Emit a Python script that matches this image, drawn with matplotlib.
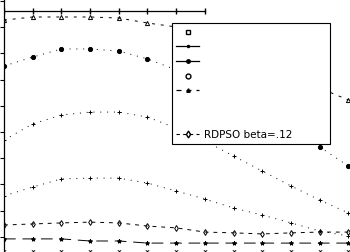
"""Cropped multi-series line chart (black and white, dotted/dashed lines with markers)."""
import numpy as np
import matplotlib; matplotlib.use("Agg"); import matplotlib.pyplot as plt
from matplotlib.lines import Line2D

X = np.arange(13)
S_FLAT = [9.62, 9.62, 9.62, 9.62, 9.62, 9.62, 9.62, 9.62, np.nan, np.nan, np.nan, np.nan, np.nan]
S_TOP = [9.27, 9.39, 9.39, 9.39, 9.35, 9.16, 9.01, 8.70, 8.28, 7.75, 7.18, 6.68, 6.22]
S_CIRC = [7.52, 7.86, 8.17, 8.17, 8.09, 7.79, 7.37, 6.87, 6.30, 5.69, 5.08, 4.43, 3.70]
S_PLUS1 = [4.69, 5.31, 5.65, 5.76, 5.76, 5.57, 5.15, 4.66, 4.08, 3.51, 2.94, 2.40, 1.91]
S_PLUS2 = [2.56, 2.90, 3.21, 3.24, 3.24, 3.05, 2.75, 2.44, 2.10, 1.83, 1.53, 1.22, 1.03]
S_DIAM = [1.45, 1.49, 1.53, 1.56, 1.53, 1.41, 1.34, 1.18, 1.15, 1.11, 1.15, 1.18, 1.18]
S_STAR = [0.92, 0.92, 0.92, 0.84, 0.84, 0.76, 0.76, 0.76, 0.76, 0.76, 0.76, 0.76, 0.76]
S_LOW = [0.45, 0.45, 0.45, 0.45, 0.45, 0.45, 0.45, 0.45, 0.45, 0.45, 0.45, 0.45, 0.45]
LABELS = ["", "", "", "", "", "", "", "RDPSO beta=.12"]

DOT = (0, (1, 6)); DASH = (0, (4, 5)); LONG = (0, (12, 7))
fig = plt.figure(figsize=(3.5, 2.52), dpi=100)
ax = fig.add_axes([4 / 350, -11 / 252, 13 * 28.7 / 350, 10.3 * 26.2 / 252])
kw = dict(color="k", lw=0.7, ms=3, mew=0.7)
ax.plot(X, S_FLAT, "-", marker="|", ms=4, color="k", lw=0.9)
ax.plot(X, S_TOP, ls=(0, (3, 6)), marker="^", mfc="none", **kw)
ax.plot(X, S_CIRC, ls=DOT, marker="o", **kw)
ax.plot(X, S_PLUS1, ls=DOT, marker="+", **kw)
ax.plot(X, S_PLUS2, ls=DOT, marker="+", **kw)
ax.plot(X, S_DIAM, ls=DASH, marker="d", mfc="none", **kw)
ax.plot(X, S_STAR, ls=LONG, marker="*", **kw)
ax.plot(X, S_LOW, ls="none", marker="1", **kw)
ax.set_xlim(0, 13); ax.set_ylim(0, 10.3)
ax.set_yticks(np.arange(1, 11)); ax.set_xticks([])
ax.tick_params(axis="y", direction="out", length=3, width=0.8, labelsize=7)
for s in ("top", "right", "bottom"):
    ax.spines[s].set_visible(False)
ax.spines["left"].set_linewidth(0.9)

handles = [Line2D([], [], color="k", lw=0.8, marker="s", mfc="none", ms=3, ls="none"),
           Line2D([], [], color="k", lw=0.9, marker=".", ms=3),
           Line2D([], [], color="k", lw=0.9, marker="o", ms=2.5),
           Line2D([], [], color="k", lw=0.8, marker="o", mfc="none", ms=3.5, ls="none"),
           Line2D([], [], color="k", lw=0.9, marker="^", ms=2.5, ls=(0, (4, 4))),
           Line2D([], [], ls="none"),
           Line2D([], [], ls="none"),
           Line2D([], [], color="k", lw=0.8, marker="d", mfc="none", ms=3.5, ls=(0, (3, 3)))]
leg = fig.legend(handles, LABELS, loc="upper left", mode="expand",
                 bbox_to_anchor=(172 / 350, 1 - 141 / 252, 158 / 350, 118 / 252),
                 fontsize=7.5, labelspacing=0.45, handlelength=2.2, handletextpad=0.5,
                 borderpad=0.4, borderaxespad=0, fancybox=False, framealpha=1)
leg.get_frame().set_edgecolor("k"); leg.get_frame().set_linewidth(0.8)
fig.savefig("out.png", dpi=100)
